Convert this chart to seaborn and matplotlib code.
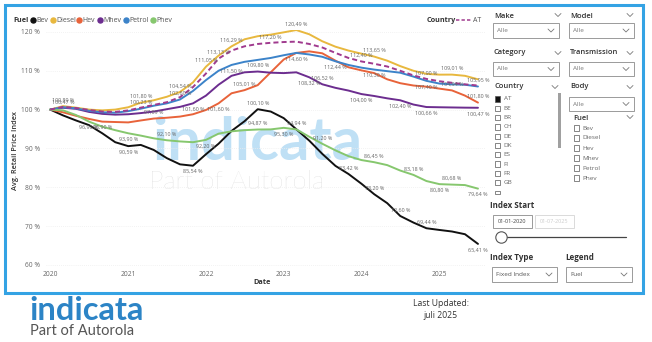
import numpy as np
import pandas as pd
import matplotlib
matplotlib.use("Agg")
import matplotlib.pyplot as plt
import seaborn as sns
from matplotlib.patches import Rectangle
from matplotlib.lines import Line2D

# ---------------- data ----------------
months = pd.date_range("2020-01-01", "2025-07-01", freq="2MS")

bev = [100.00, 98.5, 97.2, 96.0, 93.9, 91.6, 90.59, 90.9, 89.6, 87.5, 85.9, 85.54,
       88.5, 91.2, 94.5, 97.0, 100.10, 99.5, 97.8, 94.94, 92.0, 88.6, 85.5, 83.42,
       80.9, 78.20, 75.9, 72.60, 70.9, 69.44, 69.0, 68.6, 67.9, 65.41]
diesel = [100.00, 100.89, 100.5, 100.0, 99.8, 100.0, 100.6, 101.80, 102.4, 103.3, 104.54, 107.0,
          111.05, 113.9, 116.29, 118.1, 118.9, 119.3, 119.9, 120.49, 119.4, 117.6, 116.2, 115.2,
          114.4, 113.65, 112.6, 111.2, 110.0, 109.2, 109.0, 109.01, 108.7, 107.8]
hev = [100.00, 99.3, 98.4, 97.6, 96.90, 96.8, 96.7, 97.2, 97.69, 97.9, 98.2, 98.8,
       99.9, 101.60, 104.2, 105.01, 106.3, 109.6, 112.9, 114.6, 115.0, 114.5, 112.6, 110.9,
       110.1, 109.4, 107.8, 106.8, 106.2, 105.9, 105.4, 104.94, 103.6, 101.8]
mhev = [100.00, 100.47, 100.2, 99.4, 98.9, 98.7, 98.8, 99.1, 99.5, 100.1, 100.7, 101.60,
        103.6, 106.4, 108.7, 109.6, 109.8, 109.5, 109.4, 109.6, 108.32, 106.52, 105.6, 104.9,
        104.00, 103.5, 102.9, 102.40, 101.3, 100.66, 100.6, 100.55, 100.5, 100.47]
petrol = [100.00, 100.6, 100.3, 99.7, 99.3, 99.2, 99.6, 100.23, 101.0, 101.6, 102.6, 104.8,
          107.6, 110.0, 111.5, 112.3, 112.8, 113.3, 114.0, 114.6, 114.2, 113.6, 112.44, 111.5,
          110.8, 110.3, 109.9, 109.5, 108.5, 107.4, 106.7, 106.5, 106.4, 105.95]
phev = [100.00, 99.8, 98.6, 96.9, 95.6, 94.7, 93.9, 93.3, 92.6, 92.1, 91.8, 91.6,
        92.2, 93.8, 94.4, 94.7, 94.87, 94.9, 95.3, 94.9, 93.0, 91.2, 89.5, 88.0,
        87.0, 86.45, 85.7, 84.3, 83.18, 81.6, 80.8, 80.68, 80.56, 79.64]
at_country = [100.00, 100.7, 100.4, 99.9, 99.5, 99.4, 99.8, 100.5, 101.2, 101.9, 103.2, 105.8,
              109.3, 113.13, 115.2, 116.3, 116.9, 117.2, 117.4, 117.5, 116.9, 116.0, 114.6, 113.3,
              112.4, 111.8, 111.1, 110.0, 108.8, 107.9, 107.3, 106.9, 106.5, 106.2]

fuels = ["Bev", "Diesel", "Hev", "Mhev", "Petrol", "Phev"]
series = [bev, diesel, hev, mhev, petrol, phev]
years = [2020, 2021, 2022, 2023, 2024, 2025]
yticks = [60, 70, 80, 90, 100, 110, 120]
countries = ["AT", "BE", "BR", "CH", "DE", "DK", "ES", "FI", "FR", "GB"]

palette = {"Bev": "#111111", "Diesel": "#E8B83E", "Hev": "#E8633A",
           "Mhev": "#6C2D8F", "Petrol": "#3C83C9", "Phev": "#86C76E"}
at_color = "#A03A8E"

df = pd.DataFrame({
    "Date": np.tile(months, len(fuels)),
    "Fuel": np.repeat(fuels, len(months)),
    "Index": np.concatenate(series),
})

# ---------------- figure ----------------
sns.set_style("white")
plt.rcParams["font.family"] = ["Open Sans", "DejaVu Sans"]

W, H = 652, 342
fig = plt.figure(figsize=(W / 100, H / 100), dpi=100)
fig.patch.set_facecolor("white")


def fx(px):
    return px / W


def fy(py):
    return 1 - py / H


def ftext(x, y, s, **kw):
    kw.setdefault("va", "center")
    kw.setdefault("ha", "left")
    return fig.text(fx(x), fy(y), s, **kw)


def frect(x0, y0, x1, y1, **kw):
    r = Rectangle((fx(x0), fy(y1)), (x1 - x0) / W, (y1 - y0) / H,
                  transform=fig.transFigure, **kw)
    fig.add_artist(r)
    return r


def chevron(x, y, size=3.0, color="#777777", lw=0.6):
    fig.add_artist(Line2D([fx(x - size), fx(x), fx(x + size)],
                          [fy(y - size * 0.5), fy(y + size * 0.5), fy(y - size * 0.5)],
                          transform=fig.transFigure, color=color, lw=lw))


# main chart axes
ax = fig.add_axes([fx(46), fy(268), (485 - 46) / W, (268 - 30) / H])
ax.patch.set_alpha(0)

# background watermark
ax.text(fx(152), fy(160), "indicata", transform=fig.transFigure, fontsize=43,
        fontfamily="Lato", fontweight="bold", color="#bfe0f5", zorder=0.5, va="baseline")
ax.text(fx(149), fy(189), "Part of Autorola", transform=fig.transFigure, fontsize=18.5,
        fontfamily="Lato", fontweight="light", color="#d2d2d2", zorder=0.5, va="baseline")

sns.lineplot(data=df, x="Date", y="Index", hue="Fuel", palette=palette,
             linewidth=1.4, legend=False, ax=ax, zorder=2)
sns.lineplot(x=months, y=at_country, color=at_color, linewidth=1.4,
             linestyle=(0, (2.6, 1.6)), ax=ax, zorder=3)

ax.set_ylim(59.2, 120.5)
ax.set_xlim(pd.Timestamp("2019-12-12"), pd.Timestamp("2025-08-03"))
ax.set_yticks(yticks)
ax.set_yticklabels([f"{v} %" for v in yticks])
ax.set_xticks([pd.Timestamp(f"{y}-01-01") for y in years])
ax.set_xticklabels([str(y) for y in years])
ax.tick_params(axis="both", length=0, labelsize=4.8, colors="#666666")
ax.tick_params(axis="y", pad=4.5)
ax.tick_params(axis="x", pad=2.0)
ax.grid(axis="y", color="#eeeeee", lw=0.6, ls=(0, (1, 1.5)))
ax.grid(axis="x", visible=False)
for s in ax.spines.values():
    s.set_visible(False)
ax.set_xlabel("")
ax.set_ylabel("")
ftext(262, 282, "Date", ha="center", fontsize=5.3, fontweight="bold", color="#333333")
fig.text(fx(16), fy(150), "Avg. Retail Price Index", rotation=90, ha="center", va="center",
         fontsize=5.3, fontweight="semibold", color="#333333")

# data labels (index, above=+1 / below=-1)
label_points = {
    "Bev": [(6, -1), (11, -1), (16, 1), (19, 1), (23, 1), (25, 1), (27, 1), (29, 1), (33, -1)],
    "Phev": [(3, -1), (6, -1), (9, 1), (12, -1), (16, 1), (18, -1), (21, 1), (25, 1),
             (28, 1), (31, 1), (30, -1), (33, -1)],
    "Diesel": [(1, 1), (7, 1), (10, 1), (12, 1), (14, 1), (19, 1), (25, 1), (31, 1)],
    "Hev": [(4, -1), (8, 1), (13, -1), (15, 1), (31, 1), (33, 1)],
    "Mhev": [(1, 1), (11, -1), (16, 1), (20, -1), (21, 1), (24, -1), (27, -1), (29, -1), (33, -1)],
    "Petrol": [(7, 1), (10, 1), (14, -1), (19, -1), (22, -1), (25, -1), (29, -1), (33, 1)],
}
values = dict(zip(fuels, series))
values["AT"] = at_country
label_points["AT"] = [(13, 1), (17, 1), (24, 1), (29, 1)]
for name, pts in label_points.items():
    for i, sgn in pts:
        v = values[name][i]
        txt = f"{v:.2f} %".replace(".", ",")
        ax.annotate(txt, (months[i], v), xytext=(0, 2.5 * sgn), textcoords="offset points",
                    ha="center", va="bottom" if sgn > 0 else "top",
                    fontsize=3.9, color="#666666", zorder=4)

# top legends
ftext(13, 20, "Fuel", fontsize=5.2, fontweight="bold", color="#333333")
leg_x = [33, 53, 79, 100, 126, 153]
for x, f in zip(leg_x, fuels):
    fig.add_artist(Line2D([fx(x)], [fy(20)], marker="o", ms=3.6, color=palette[f],
                          transform=fig.transFigure, lw=0))
    ftext(x + 3, 20.3, f, fontsize=5.0, color="#555555")
ftext(427, 20, "Country", fontsize=5.2, fontweight="bold", color="#333333")
fig.add_artist(Line2D([fx(456), fx(471)], [fy(20), fy(20)], color=at_color, lw=1.1,
                      ls=(0, (2.2, 1.4)), transform=fig.transFigure))
ftext(473, 20.3, "AT", fontsize=5.0, color="#555555")

# ---------------- slicer panel ----------------
hdr = dict(fontsize=5.4, fontweight="semibold", color="#333333")
box_kw = dict(fill=False, edgecolor="#8a8a8a", lw=0.6)
small = dict(fontsize=4.6, color="#666666")


def dropdown(x0, y0, x1, y1, text, tcolor="#777777"):
    frect(x0, y0, x1, y1, **box_kw)
    ftext(x0 + 4, (y0 + y1) / 2, text, fontsize=4.6, color=tcolor)
    chevron(x1 - 8, (y0 + y1) / 2)


ftext(494, 16, "Make", **hdr)
chevron(558, 15)
dropdown(493, 23, 559, 38, "Alle")
ftext(570, 16, "Model", **hdr)
chevron(630, 15)
dropdown(569, 23, 634, 38, "Alle")

ftext(494, 53, "Category", **hdr)
chevron(558, 53)
dropdown(493, 62, 559, 76, "Alle")
ftext(570, 53, "Transmission", **hdr)
chevron(630, 53)
dropdown(569, 62, 634, 76, "Alle")

ftext(495, 87, "Country", **hdr)
chevron(555, 87)
for j, c in enumerate(countries):
    yy = 99 + j * 9.3
    filled = (c == "AT")
    frect(495, yy - 2.6, 500.2, yy + 2.6, fill=filled,
          facecolor="#111111" if filled else "none", edgecolor="#555555", lw=0.5)
    ftext(503.5, yy, c, **small)
frect(495, 191.4, 500.2, 193.6, fill=False, edgecolor="#555555", lw=0.5)
frect(557.8, 93, 560.6, 148, facecolor="#a0a0a0", edgecolor="none")

ftext(570, 87, "Body", **hdr)
chevron(630, 87)
dropdown(569, 97, 634, 111, "Alle")

ftext(573, 118, "Fuel", **hdr)
chevron(630, 117)
for j, f in enumerate(fuels):
    yy = 128 + j * 10
    frect(574, yy - 2.6, 579.2, yy + 2.6, fill=False, edgecolor="#555555", lw=0.5)
    ftext(582, yy, f, **small)

ftext(490, 205, "Index Start", fontsize=5.8, fontweight="bold", color="#333333")
frect(493, 215, 532, 228, **box_kw)
ftext(512.5, 221.5, "01-01-2020", ha="center", fontsize=4.0, color="#444444")
frect(535, 215, 574, 228, fill=False, edgecolor="#d5d5d5", lw=0.6)
ftext(554.5, 221.5, "01-07-2025", ha="center", fontsize=4.0, color="#cccccc")
fig.add_artist(Line2D([fx(507), fx(626)], [fy(237), fy(237)], color="#444444", lw=0.9,
                      transform=fig.transFigure))
fig.add_artist(Line2D([fx(501)], [fy(237)], marker="o", ms=8.2, mfc="white",
                      mec="#555555", mew=0.8, lw=0, transform=fig.transFigure))

ftext(490, 258, "Index Type", fontsize=5.8, fontweight="bold", color="#333333")
ftext(565, 258, "Legend", fontsize=5.8, fontweight="bold", color="#333333")
dropdown(492, 267, 557, 282, "Fixed Index", tcolor="#555555")
dropdown(566, 267, 632, 282, "Fuel", tcolor="#555555")

# outer frame
frect(5, 5, 643, 293, fill=False, edgecolor="#34a3e4", lw=2.2)

# ---------------- footer ----------------
ftext(29, 320, "indicata", fontsize=23.5, fontfamily="Lato", fontweight="bold",
      color="#2c84c6", va="baseline")
ftext(30, 331, "Part of Autorola", fontsize=10.5, fontfamily="Lato", color="#555555")
ftext(441, 303, "Last Updated:", ha="center", fontsize=6.2, color="#333333")
ftext(441, 316, "juli 2025", ha="center", fontsize=6.2, color="#333333")

fig.savefig("out.png", dpi=100, facecolor="white")
